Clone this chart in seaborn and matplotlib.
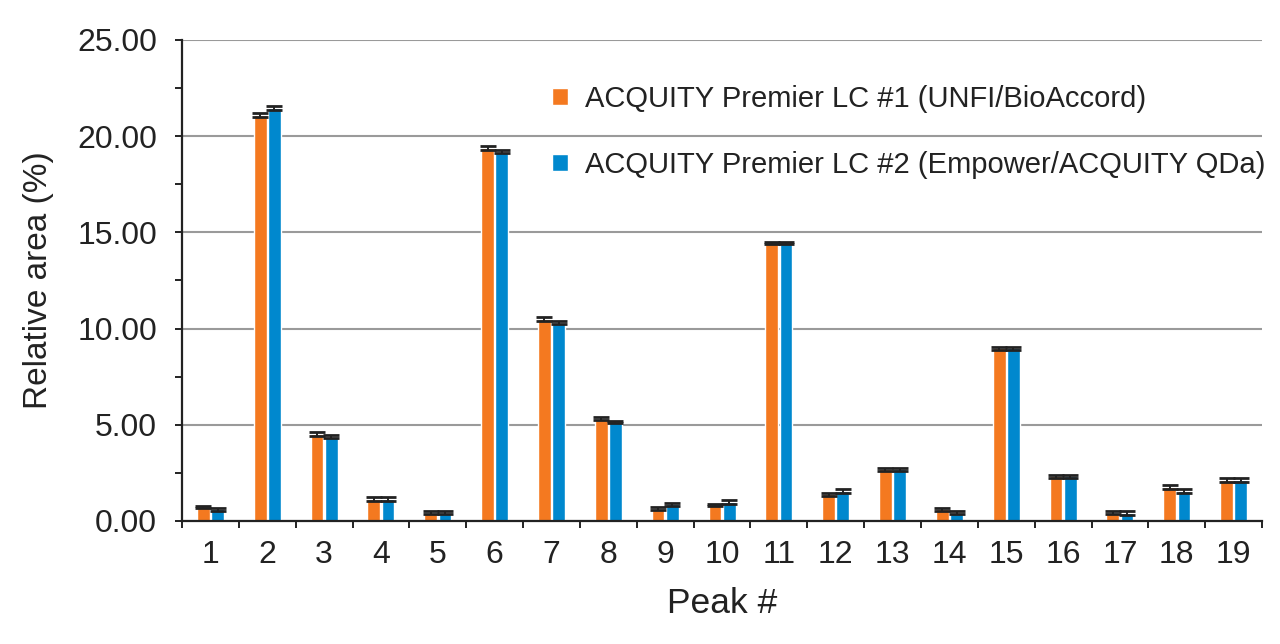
import numpy as np
import pandas as pd
import matplotlib
matplotlib.use("Agg")
import matplotlib.pyplot as plt
import seaborn as sns
from matplotlib.ticker import MultipleLocator, FixedLocator

# Dane
peaks = [str(i) for i in range(1, 20)]
series_names = ["ACQUITY Premier LC #1 (UNFI/BioAccord)",
                "ACQUITY Premier LC #2 (Empower/ACQUITY QDa)"]
lc1_mean = [0.72, 21.08, 4.52, 1.15, 0.44, 19.38, 10.48, 5.32, 0.64, 0.84,
            14.45, 1.38, 2.70, 0.62, 8.98, 2.32, 0.44, 1.76, 2.12]
lc2_mean = [0.60, 21.45, 4.38, 1.15, 0.44, 19.20, 10.30, 5.14, 0.86, 1.00,
            14.45, 1.56, 2.70, 0.44, 8.98, 2.32, 0.42, 1.56, 2.12]
lc1_sd = [0.06, 0.10, 0.12, 0.10, 0.08, 0.10, 0.10, 0.08, 0.08, 0.06,
          0.06, 0.09, 0.08, 0.08, 0.08, 0.09, 0.08, 0.09, 0.09]
lc2_sd = [0.10, 0.10, 0.08, 0.10, 0.08, 0.08, 0.08, 0.07, 0.06, 0.10,
          0.06, 0.08, 0.08, 0.08, 0.08, 0.09, 0.10, 0.08, 0.09]
y_ticks = [0, 5, 10, 15, 20, 25]

colors = ["#F47920", "#0088CE"]

df = pd.DataFrame({
    "peak": peaks * 2,
    "value": lc1_mean + lc2_mean,
    "system": [series_names[0]] * len(peaks) + [series_names[1]] * len(peaks),
})

sns.set_style("white")
plt.rcParams["font.family"] = ["Liberation Sans", "DejaVu Sans"]

fig = plt.figure(figsize=(12.8, 6.44), dpi=100)
ax = fig.add_axes([0.1422, 0.191, 0.8438, 0.747])

sns.barplot(data=df, x="peak", y="value", hue="system", order=peaks,
            hue_order=series_names, palette=colors, width=0.5, gap=0.1,
            errorbar=None, saturation=1, ax=ax, zorder=2)

# Słupki błędów na pozycjach słupków
for cont, sd in zip(ax.containers, [lc1_sd, lc2_sd]):
    xs = [p.get_x() + p.get_width() / 2 for p in cont.patches]
    ys = [p.get_height() for p in cont.patches]
    ax.errorbar(xs, ys, yerr=sd, fmt="none", ecolor="#222222",
                elinewidth=1.4, capsize=6, capthick=2.0, zorder=3)

ax.set_ylim(0, 25)
ax.set_xlim(-0.5, len(peaks) - 0.5)
ax.yaxis.set_major_locator(FixedLocator(y_ticks))
ax.yaxis.set_minor_locator(MultipleLocator(2.5))
ax.set_yticklabels([f"{v:.2f}" for v in y_ticks])
ax.xaxis.set_minor_locator(FixedLocator(np.arange(-0.5, len(peaks), 1.0)))

ax.grid(axis="y", which="major", color="#9a9a9a", linewidth=1.5, zorder=0)
ax.set_axisbelow(True)

for side in ["top", "right"]:
    ax.spines[side].set_visible(False)
for side in ["left", "bottom"]:
    ax.spines[side].set_color("#222222")
    ax.spines[side].set_linewidth(1.6)

ax.tick_params(axis="y", which="both", direction="out", length=5, width=1.4,
               color="#222222", labelsize=23, pad=13, left=True)
ax.tick_params(axis="x", which="major", length=0, labelsize=23, pad=14)
ax.tick_params(axis="x", which="minor", direction="out", length=5, width=1.4,
               color="#222222", bottom=True)

ax.set_xlabel("Peak #", fontsize=25.5, labelpad=12, color="#222222")
ax.set_ylabel("Relative area (%)", fontsize=24, labelpad=17, color="#222222")
for lab in ax.get_xticklabels() + ax.get_yticklabels():
    lab.set_color("#222222")

leg = ax.legend(loc="upper left", bbox_to_anchor=(0.318, 0.961), frameon=False,
                fontsize=21, labelspacing=1.3, handlelength=0.55,
                handleheight=0.55, handletextpad=0.6)
for t in leg.get_texts():
    t.set_color("#222222")

fig.savefig("out.png", dpi=100)
